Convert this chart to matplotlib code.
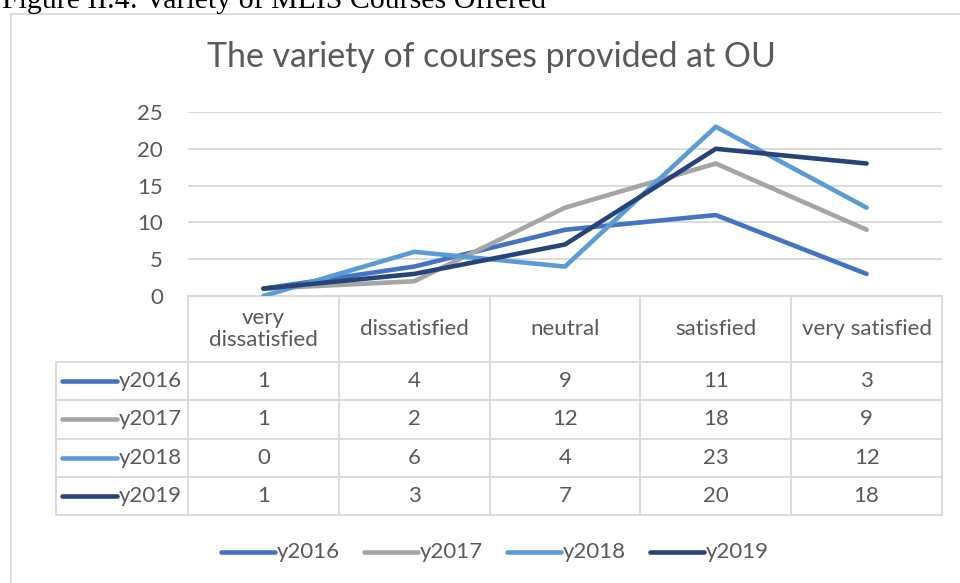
import matplotlib
matplotlib.use('Agg')
import matplotlib.pyplot as plt
import numpy as np

# Data
categories = ['very\ndissatisfied', 'dissatisfied', 'neutral', 'satisfied', 'very satisfied']
series_names = ['y2016', 'y2017', 'y2018', 'y2019']
y2016 = [1, 4, 9, 11, 3]
y2017 = [1, 2, 12, 18, 9]
y2018 = [0, 6, 4, 23, 12]
y2019 = [1, 3, 7, 20, 18]
series_values = [y2016, y2017, y2018, y2019]
series_colors = ['#4472C4', '#A5A5A5', '#5B9BD5', '#264478']
y_ticks = [0, 5, 10, 15, 20, 25]

W, H = 960, 583
TEXT = '#595959'
GRID = '#D9D9D9'
FONT = ['Lato', 'DejaVu Sans']
FS = 16
LW = 3.3

# Layout in pixels (top-left origin)
PLOT_L, PLOT_R = 188, 942
PLOT_T, PLOT_B = 112, 296
HEADER_B = 362
ROW_H = 38.3
KEY_L = 56

fig = plt.figure(figsize=(W / 100, H / 100), dpi=100)

# pixel-space overlay for caption, border, table and legend
bg = fig.add_axes([0, 0, 1, 1])
bg.set_xlim(0, W)
bg.set_ylim(H, 0)
bg.axis('off')

ax = fig.add_axes([PLOT_L / W, 1 - PLOT_B / H, (PLOT_R - PLOT_L) / W, (PLOT_B - PLOT_T) / H])
ax.patch.set_visible(False)

# Caption (cut off at the top, as in the source) and chart border
bg.text(2, 8, 'Figure II.4: Variety of MLIS Courses Offered', family='Liberation Serif',
        fontsize=21.5, color='black', va='baseline', ha='left')
bg.plot([11, 11], [14, H + 5], color=GRID, lw=1.3)
bg.plot([11, W + 5], [14, 14], color=GRID, lw=1.3)

# Title
bg.text(491, 57, 'The variety of courses provided at OU', family=FONT, fontsize=24.4,
        color=TEXT, ha='center', va='center')

# Lines
x = np.arange(len(categories))
for vals, col, name in zip(series_values, series_colors, series_names):
    ax.plot(x, vals, color=col, lw=LW, solid_capstyle='round', solid_joinstyle='round',
            label=name, zorder=3)

ax.set_xlim(-0.5, len(categories) - 0.5)
ax.set_ylim(0, 25)
ax.set_yticks(y_ticks)
ax.set_xticks([])
ax.yaxis.grid(True, color=GRID, lw=1.3)
ax.set_axisbelow(True)
for s in ax.spines.values():
    s.set_visible(False)
ax.tick_params(axis='y', length=0, pad=18, labelsize=FS, labelcolor=TEXT)
for lbl in ax.get_yticklabels():
    lbl.set_family(FONT)

# Data table
n_cols = len(categories)
col_w = (PLOT_R - PLOT_L) / n_cols
col_edges = [PLOT_L + i * col_w for i in range(n_cols + 1)]
table_b = HEADER_B + ROW_H * len(series_names)

bg.plot([PLOT_L, PLOT_R], [PLOT_B, PLOT_B], color=GRID, lw=1.3)
for xe in col_edges:
    bg.plot([xe, xe], [PLOT_B, table_b], color=GRID, lw=1.3)
bg.plot([KEY_L, KEY_L], [HEADER_B, table_b], color=GRID, lw=1.3)
for r in range(len(series_names) + 1):
    yy = HEADER_B + r * ROW_H
    bg.plot([KEY_L, PLOT_R], [yy, yy], color=GRID, lw=1.3)

for i, cat in enumerate(categories):
    bg.text(col_edges[i] + col_w / 2, (PLOT_B + HEADER_B) / 2, cat, family=FONT,
            fontsize=FS, color=TEXT, ha='center', va='center', linespacing=1.15)

for r, (name, vals, col) in enumerate(zip(series_names, series_values, series_colors)):
    yc = HEADER_B + (r + 0.5) * ROW_H
    bg.plot([62, 117], [yc, yc], color=col, lw=LW, solid_capstyle='round')
    bg.text(PLOT_L - 6, yc, name, family=FONT, fontsize=FS, color=TEXT, ha='right', va='center')
    for i, v in enumerate(vals):
        bg.text(col_edges[i] + col_w / 2, yc, str(v), family=FONT, fontsize=FS,
                color=TEXT, ha='center', va='center')

# Legend
for i, (name, col) in enumerate(zip(series_names, series_colors)):
    x0 = 221 + i * 143
    bg.plot([x0, x0 + 54], [552, 552], color=col, lw=LW, solid_capstyle='round')
    bg.text(x0 + 56, 552, name, family=FONT, fontsize=FS, color=TEXT, ha='left', va='center')

plt.savefig('out.png', dpi=100)
